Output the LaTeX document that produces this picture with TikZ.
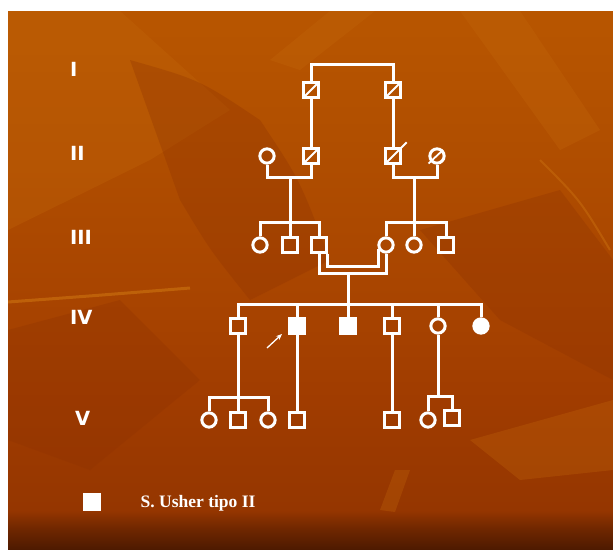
\documentclass[tikz,border=0pt]{standalone}
\usepackage{fontspec}
\setmainfont{Liberation Serif}
\newfontfamily\numfont{DejaVu Sans}
\usetikzlibrary{arrows.meta,calc}
\definecolor{bgA}{HTML}{4E1A00}
\definecolor{bgB}{HTML}{6E2600}
\definecolor{bgC}{HTML}{953600}
\definecolor{bgD}{HTML}{A03C00}
\definecolor{bgE}{HTML}{A84400}
\definecolor{bgF}{HTML}{B04E00}
\definecolor{bgG}{HTML}{B85600}
\definecolor{leafL}{HTML}{C4680C}
\definecolor{leafD}{HTML}{8E3200}
\pgfdeclareverticalshading{bgshade}{100bp}{color(0bp)=(bgA); color(25bp)=(bgA); color(26.8bp)=(bgB); color(28.6bp)=(bgC); color(38.8bp)=(bgD); color(48.1bp)=(bgE); color(62.1bp)=(bgF); color(75bp)=(bgG); color(100bp)=(bgG)}
\begin{document}
\begin{tikzpicture}[x=1pt,y=-1pt,
  ped/.style={draw=white,line width=3pt,minimum size=14.3pt,inner sep=0pt},
  male/.style={ped,rectangle},
  female/.style={ped,circle},
  aff/.style={fill=white},
  dec/.style={path picture={\draw[white,line width=1.8pt] (path picture bounding box.south west) -- (path picture bounding box.north east);}},
  link/.style={draw=white,line width=3pt},
  slash/.style={draw=white,line width=1.8pt},
  gen/.style={font=\numfont\bfseries\fontsize{19.5}{20}\selectfont,text=white,inner sep=0pt,anchor=base west},
  leaf/.style={fill=leafL,opacity=0.3,draw=none},
  dleaf/.style={fill=leafD,opacity=0.3,draw=none},
]
\useasboundingbox (0,0) rectangle (613,549);
\fill[white] (0,0) rectangle (613,549);
\shade[shading=bgshade] (8,11) rectangle (613,549);
% background texture
\begin{scope}
\clip (8,11) rectangle (613,549);
\fill[leaf] (8,11) -- (120,11) -- (230,110) -- (150,160) -- (8,230) -- cycle;
\fill[dleaf] (130,60) .. controls (200,80) .. (260,120) .. controls (300,180) .. (330,260) -- (250,300) .. controls (210,250) .. (180,200) -- cycle;
\fill[leaf] (330,11) -- (375,11) -- (300,70) -- (270,60) -- cycle;
\fill[leaf] (460,11) -- (520,11) -- (600,130) -- (560,150) -- cycle;
\fill[dleaf] (8,330) -- (120,300) -- (200,380) -- (90,470) -- (8,440) -- cycle;
\fill[leaf] (470,440) -- (613,400) -- (613,470) -- (520,480) -- cycle;
\fill[leaf] (380,510) -- (395,470) -- (410,470) -- (395,512) -- cycle;
\fill[dleaf] (420,230) -- (560,190) -- (613,260) -- (613,380) -- (500,320) -- cycle;
\draw[leafL,line width=3pt,opacity=0.8] (8,302) .. controls (90,296) .. (190,288);
\draw[leafL,line width=2pt,opacity=0.6] (540,160) .. controls (580,200) .. (610,250);
\end{scope}
% generation labels
\node[gen] (gI) at (70,76) {I};
\node[gen] (gII) at (70,160.7) {II};
\node[gen] (gIII) at (70,244) {III};
\node[gen] (gIV) at (70,324.3) {IV};
\node[gen] (gV) at (75,425) {V};
% generation I
\node[male,dec] (I1) at (311,90) {};
\node[male,dec] (I2) at (393,90) {};
% generation II
\node[female] (II1) at (267,156) {};
\node[male,dec] (II2) at (311,156) {};
\node[male] (II3) at (393,156) {};
\node[female] (II4) at (437,156) {};
\draw[slash] ($(II3.south west)+(1.5,-1.5)$) -- ($(II3.north east)+(5,-5)$);
\draw[slash] ($(II4.center)+(-8.5,7.5)$) -- ($(II4.center)+(6,-6)$);
% generation III
\node[female] (III1) at (260,245) {};
\node[male] (III2) at (290,245) {};
\node[male] (III3) at (319,245) {};
\node[female] (III4) at (386,245) {};
\node[female] (III5) at (414,245) {};
\node[male] (III6) at (446,245) {};
% generation IV
\node[male] (IV1) at (238,326) {};
\node[male,aff] (IV2) at (297,326) {};
\node[male,aff] (IV3) at (348,326) {};
\node[male] (IV4) at (392,326) {};
\node[female] (IV5) at (438,326) {};
\node[female,aff] (IV6) at (481,326) {};
% generation V
\node[female] (V1) at (209,420) {};
\node[male] (V2) at (238,420) {};
\node[female] (V3) at (268,420) {};
\node[male] (V4) at (297,420) {};
\node[male] (V5) at (392,420) {};
\node[female] (V6) at (428,420) {};
\node[male] (V7) at (452,418) {};
% junction coordinates
\coordinate (m1) at (352,64);
\coordinate (c2a) at (290,177);
\coordinate (c2b) at (414,177);
\coordinate (s3a) at (290,222);
\coordinate (s3b) at (414,222);
\coordinate (cIn) at (352,266);
\coordinate (cOut) at (348,273);
\coordinate (s4) at (348,304);
\coordinate (s5a) at (238,397);
\coordinate (s5b) at (438,396);
\coordinate (arrS) at (267,348);
\coordinate (arrE) at (282,334);
% connectors
\draw[link] (I1.north) |- (m1) -| (I2.north);
\draw[link] (I1.south) -- (II2.north);
\draw[link] (I2.south) -- (II3.north);
\draw[link] (II1.south) |- (c2a) -| (II2.south);
\draw[link] (II3.south) |- (c2b) -| (II4.south);
\draw[link] (c2a) -- (s3a);
\draw[link] (c2b) -- (s3b);
\draw[link] (III1.north) |- (s3a) -| (III3.north);
\draw[link] (III2.north) -- (III2.north |- s3a);
\draw[link] (III4.north) |- (s3b) -| (III6.north);
\draw[link] (III5.north) -- (s3b);
\draw[link] (III3.south) |- (cOut) -| (III4.south);
\draw[link] (III3.south east) |- (cIn) -| (III4.205);
\draw[link] (cOut) -- (s4);
\draw[link] (IV1.north) |- (s4) -| (IV6.north);
\draw[link] (IV2.north) -- (IV2.north |- s4);
\draw[link] (IV3.north) -- (s4);
\draw[link] (IV4.north) -- (IV4.north |- s4);
\draw[link] (IV5.north) -- (IV5.north |- s4);
\draw[white,line width=1.3pt,-{Stealth[length=6pt,width=5pt]}] (arrS) -- (arrE);
\draw[link] (IV1.south) -- (V2.north);
\draw[link] (V1.north) |- (s5a) -| (V3.north);
\draw[link] (IV2.south) -- (V4.north);
\draw[link] (IV4.south) -- (V5.north);
\draw[link] (IV5.south) -- (s5b);
\draw[link] (V6.north) |- (s5b) -| (V7.north);
% legend
\node[fill=white,minimum size=18pt,inner sep=0pt] (leg) at (92,502) {};
\node[anchor=base west,inner sep=0pt,text=white,font=\bfseries\fontsize{17.5}{18}\selectfont] (legt) at (140.5,507.3) {S. Usher tipo II};
\end{tikzpicture}
\end{document}
